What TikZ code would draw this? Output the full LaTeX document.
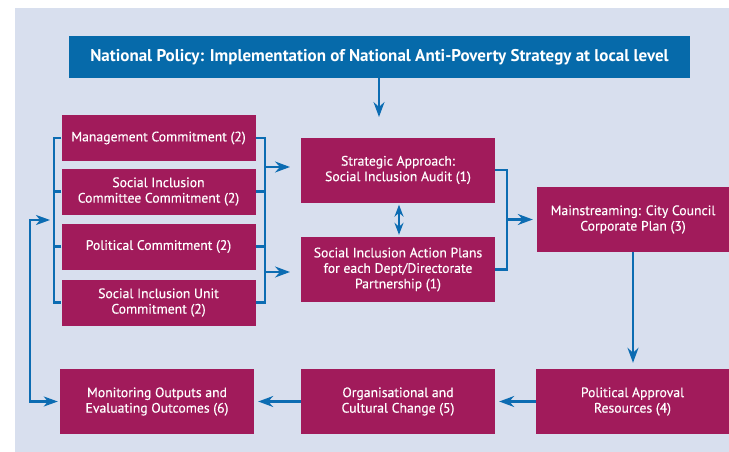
\documentclass[tikz,border=0pt]{standalone}
\usepackage{fontspec}
\setmainfont{PT Sans}
\usetikzlibrary{arrows.meta}

\definecolor{panel}{RGB}{216,223,238}
\definecolor{plum}{RGB}{161,27,91}
\definecolor{headblue}{RGB}{6,106,170}
\definecolor{wire}{RGB}{12,108,178}

\begin{document}
\begin{tikzpicture}[x=1pt,y=-1pt,
  box/.style={fill=plum,text=white,align=center,inner sep=0pt,
    font=\addfontfeatures{FakeBold=0.3}\fontsize{13.7}{15.5}\selectfont},
  wide/.style={minimum width=194pt},
  tall/.style={minimum height=65pt},
  short/.style={minimum height=46pt},
  link/.style={draw=wire,line width=2.2pt},
  flow/.style={link,-{Stealth[length=15pt,width=11pt,inset=5pt]}},
  both/.style={link,{Stealth[length=14pt,width=10pt,inset=4pt]}-{Stealth[length=14pt,width=10pt,inset=4pt]}},
  twin/.style={draw=wire,line width=2pt,{Stealth[length=12pt,width=9pt,inset=4pt]}-{Stealth[length=12pt,width=9pt,inset=4pt]}}
]
\useasboundingbox (0,0) rectangle (729,452);
\fill[panel] (15,8) rectangle (729,452);

% heading
\node[fill=headblue,text=white,minimum width=621pt,minimum height=42pt,inner sep=0pt,
  font=\bfseries\fontsize{17}{19}\selectfont] (policy) at (379.5,57)
  {National Policy: Implementation of National Anti-Poverty Strategy at local level};

% commitment column
\node[box,wide,short] (mgmt) at (158.5,138) {Management Commitment (2)};
\node[box,wide,short] (cttee) at (158.5,191.5) {Social Inclusion\\Committee Commitment (2)};
\node[box,wide,short] (polc) at (158.5,246.5) {Political Commitment (2)};
\node[box,wide,short] (unit) at (158.5,302.5) {Social Inclusion Unit\\Commitment (2)};

% strategy pair
\node[box,wide,tall] (audit) at (398,170) {Strategic Approach:\\Social Inclusion Audit (1)};
\node[box,wide,tall] (plans) at (398,269.5) {Social Inclusion Action Plans\\for each Dept/Directorate\\Partnership (1)};

% right column and bottom row
\node[box,minimum width=192pt,tall] (mainstr) at (633,219.5) {Mainstreaming: City Council\\Corporate Plan (3)};
\node[box,minimum width=193pt,tall] (approval) at (632.5,401.5) {Political Approval\\Resources (4)};
\node[box,wide,tall] (change) at (398,401.5) {Organisational and\\Cultural Change (5)};
\node[box,wide,tall] (monitor) at (157,401.5) {Monitoring Outputs and\\Evaluating Outcomes (6)};

% free ends of the short arrows
\coordinate (policytip) at (379,117);
\coordinate (lbr) at (54,138);
\coordinate (rbr) at (265,138);
\coordinate (sbr) at (507,170);
\coordinate (loop) at (30,220);

% heading into the diagram
\draw[flow] (policy.south -| policytip) -- (policytip);

% left bracket of the commitment column
\draw[link] (mgmt.west) -- (lbr) |- (unit.west);
\draw[link] (cttee.west) -- (cttee.west -| lbr);
\draw[link] (polc.west) -- (polc.west -| lbr);

% right bracket of the commitment column
\draw[link] (mgmt.east) -- (rbr) |- (unit.east);
\draw[link] (cttee.east) -- (cttee.east -| rbr);
\draw[link] (polc.east) -- (polc.east -| rbr);
\draw[flow] (rbr |- 0,167) -- (290,167);
\draw[flow] (rbr |- 0,272) -- (290,272);

% audit and plans
\draw[twin,shorten <=2pt,shorten >=2pt] (audit.south -| 399,0) -- (plans.north -| 399,0);
\draw[link] (audit.east) -- (sbr) |- (plans.east);
\draw[flow,shorten >=4pt] (sbr |- mainstr.west) -- (mainstr.west);

% around the cycle
\draw[flow,shorten >=6pt] (mainstr.south) -- (approval.north -| mainstr.south);
\draw[flow,shorten >=4pt] (approval.west) -- (change.east);
\draw[flow,shorten >=4pt] (change.west) -- (monitor.east);

% feedback to the commitment column
\draw[both,shorten <=4pt,shorten >=2pt] (lbr |- loop) -- (loop) |- (monitor.west);
\end{tikzpicture}
\end{document}
